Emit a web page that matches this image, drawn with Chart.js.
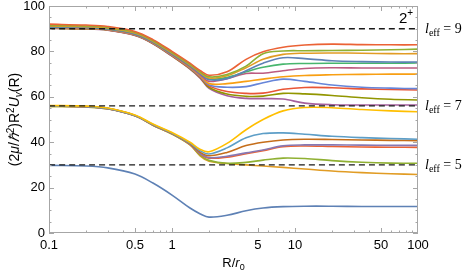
<!DOCTYPE html>
<html>
<head>
<meta charset="utf-8">
<script src="https://cdn.jsdelivr.net/npm/chart.js@4/dist/chart.umd.min.js"></script>
<style>
  html, body { margin: 0; padding: 0; background: #fff; }
  #wrap { width: 469px; height: 274px; }
</style>
</head>
<body>
<div id="wrap"><canvas id="potChart"></canvas></div>
<script>
// sample points along R/r0 (log axis)
const R = [0.1, 0.2, 0.3, 0.5, 0.7, 1, 1.4, 1.7, 2, 2.8, 4, 5.5, 8, 12, 20, 35, 60, 100];

// l_eff = 9 channels
const leff9Curves = [
  [92.0, 91.6, 91.0, 88.8, 85.2, 80.0, 74.8, 71.5, 69.5, 71.0, 76.5, 79.8, 81.8, 82.8, 83.2, 83.0, 82.9, 82.9],
  [91.5, 91.2, 90.6, 88.4, 84.8, 79.6, 74.4, 71.0, 68.8, 69.8, 73.5, 79.0, 80.2, 80.3, 80.4, 80.5, 80.7, 81.0],
  [91.2, 90.9, 90.3, 88.1, 84.5, 79.3, 74.1, 70.6, 68.3, 69.3, 72.8, 76.5, 78.7, 79.2, 79.3, 79.2, 79.0, 79.0],
  [90.8, 90.6, 90.0, 87.8, 84.2, 79.0, 73.8, 70.0, 67.5, 68.0, 71.5, 74.8, 77.2, 76.8, 75.9, 75.5, 75.3, 75.3],
  [90.8, 90.5, 89.9, 87.7, 84.1, 78.9, 73.6, 70.2, 67.8, 68.5, 71.0, 73.0, 74.4, 74.7, 74.8, 74.8, 74.8, 74.9],
  [90.6, 90.4, 89.8, 87.5, 83.9, 78.6, 73.2, 69.6, 66.8, 68.0, 70.3, 70.4, 71.5, 72.5, 72.8, 72.7, 72.7, 72.7],
  [90.5, 90.3, 89.7, 87.4, 83.8, 78.5, 73.0, 69.2, 65.8, 65.8, 66.8, 67.8, 68.8, 69.4, 69.7, 69.9, 70.0, 70.0],
  [90.4, 90.2, 89.6, 87.3, 83.7, 78.3, 72.8, 68.9, 65.2, 64.2, 64.5, 66.2, 67.8, 66.8, 65.2, 64.2, 63.8, 63.6],
  [90.3, 90.1, 89.5, 87.2, 83.6, 78.2, 72.6, 68.7, 64.8, 62.3, 61.5, 61.6, 63.3, 64.1, 64.0, 63.5, 63.2, 63.0],
  [90.2, 90.0, 89.4, 87.1, 83.5, 78.0, 72.4, 68.4, 64.2, 61.2, 60.2, 60.3, 61.5, 61.3, 60.6, 59.6, 58.9, 58.6],
  [90.1, 89.9, 89.3, 87.0, 83.4, 77.9, 72.2, 68.1, 63.7, 60.5, 59.3, 59.2, 59.0, 57.2, 56.5, 56.4, 56.4, 56.4]
];
const leff9Colors = ['#EB6235', '#8FB032', '#E19C24', '#5E81B5', '#47B66D', '#BC5B80',
                     '#F89F13', '#6685D9', '#E95536', '#929600', '#A5609D'];

// l_eff = 7 channels
const leff7Curves = [
  [56.2, 55.9, 55.1, 52.0, 48.0, 44.3, 40.0, 36.8, 35.8, 39.5, 45.5, 50.0, 53.8, 55.3, 55.2, 54.4, 53.8, 53.4],
  [56.0, 55.7, 54.9, 51.8, 47.8, 44.0, 39.6, 36.2, 34.8, 37.5, 42.0, 43.8, 44.1, 43.5, 42.6, 42.0, 41.6, 41.3],
  [56.0, 55.7, 54.9, 51.8, 47.7, 43.9, 39.4, 35.5, 34.0, 35.5, 38.5, 40.0, 41.0, 41.3, 41.2, 41.0, 40.8, 40.7],
  [55.9, 55.6, 54.8, 51.7, 47.6, 43.8, 39.2, 35.0, 33.2, 33.8, 35.3, 36.6, 38.4, 38.8, 38.8, 38.7, 38.6, 38.6],
  [55.9, 55.6, 54.8, 51.7, 47.6, 43.8, 39.1, 34.8, 33.0, 33.4, 34.9, 36.3, 38.0, 38.3, 38.1, 37.9, 37.8, 37.7],
  [55.8, 55.5, 54.7, 51.6, 47.5, 43.6, 38.9, 34.2, 32.0, 30.7, 31.1, 32.1, 33.0, 32.8, 31.9, 31.2, 30.8, 30.7],
  [55.8, 55.5, 54.7, 51.6, 47.5, 43.6, 38.8, 33.9, 31.6, 30.6, 30.0, 29.5, 28.9, 28.2, 27.3, 26.6, 26.1, 25.8]
];
const leff7Colors = ['#FFBF00', '#5D9EC7', '#C56E1A', '#8778B3', '#EB6235', '#8FB032', '#E19C24'];

// l_eff = 5 channel
const leff5Curve = [29.8, 29.5, 28.7, 26.0, 22.0, 16.7, 11.0, 8.4, 7.0, 7.8, 9.8, 11.0, 11.6, 11.8, 11.8, 11.7, 11.7, 11.7];

// centrifugal levels l(l+1) and their labels
const levels = [90, 56, 30];
const levelNames = ['9', '7', '5'];

const xTicks = [0.1, 0.5, 1, 5, 10, 50, 100];
const yTicks = [0, 20, 40, 60, 80, 100];

const SANS = '"Liberation Sans", Arial, sans-serif';
const SERIF = '"Liberation Serif", "Times New Roman", serif';

function toPts(vals) {
  return R.map((r, i) => ({ x: r, y: vals[i] }));
}

const datasets = [];
levels.forEach(v => {
  datasets.push({
    data: [{ x: 0.1, y: v }, { x: 100, y: v }],
    borderColor: '#1a1a1a', borderWidth: 1.4, borderDash: [6, 4]
  });
});
datasets.push({ data: toPts(leff5Curve), borderColor: '#5E81B5' });
leff7Curves.forEach((c, i) => datasets.push({ data: toPts(c), borderColor: leff7Colors[i] }));
leff9Curves.forEach((c, i) => datasets.push({ data: toPts(c), borderColor: leff9Colors[i] }));

// draw a line of text made of styled pieces, starting at x
function drawRuns(ctx, runs, x, y, align) {
  let w = 0;
  runs.forEach(r => { ctx.font = r.font; w += ctx.measureText(r.t).width; });
  let cx = align === 'center' ? x - w / 2 : x;
  ctx.textAlign = 'left';
  ctx.textBaseline = 'alphabetic';
  runs.forEach(r => {
    ctx.font = r.font;
    ctx.fillText(r.t, cx, y + (r.dy || 0));
    cx += ctx.measureText(r.t).width;
  });
}

const framePlugin = {
  id: 'frame',
  afterDraw(chart) {
    const { ctx, chartArea: a, scales: { x, y } } = chart;
    ctx.save();
    ctx.strokeStyle = '#a6a6a6';
    ctx.lineWidth = 1;
    ctx.strokeRect(a.left + 0.5, a.top + 0.5, a.right - a.left - 1, a.bottom - a.top - 1);

    ctx.beginPath();
    // x ticks (top and bottom, pointing inward)
    [0.1, 1, 10].forEach(d => {
      for (let k = 1; k <= 9; k++) {
        const v = d * k;
        if (v > 100) continue;
        const px = Math.round(x.getPixelForValue(v)) + 0.5;
        const len = xTicks.includes(+v.toPrecision(3)) ? 5 : 2.5;
        ctx.moveTo(px, a.bottom); ctx.lineTo(px, a.bottom - len);
        ctx.moveTo(px, a.top); ctx.lineTo(px, a.top + len);
      }
    });
    // y ticks (left and right)
    for (let v = 0; v <= 100; v += 5) {
      const py = Math.round(y.getPixelForValue(v)) + 0.5;
      const len = v % 20 === 0 ? 5 : 2.5;
      ctx.moveTo(a.left, py); ctx.lineTo(a.left + len, py);
      ctx.moveTo(a.right, py); ctx.lineTo(a.right - len, py);
    }
    ctx.stroke();

    ctx.fillStyle = '#000';
    // axis titles
    drawRuns(ctx, [
      { t: 'R/', font: '13px ' + SANS },
      { t: 'r', font: 'italic 13px ' + SANS },
      { t: '0', font: '9px ' + SANS, dy: 3 }
    ], (a.left + a.right) / 2, 267, 'center');

    ctx.save();
    ctx.translate(19, (a.top + a.bottom) / 2);
    ctx.rotate(-Math.PI / 2);
    drawRuns(ctx, [
      { t: '(2', font: '14px ' + SANS },
      { t: 'μ', font: 'italic 14px ' + SANS },
      { t: '/', font: '14px ' + SANS },
      { t: 'ℏ', font: 'italic 14px ' + SANS },
      { t: '2', font: '10px ' + SANS, dy: -5 },
      { t: ')R', font: '14px ' + SANS },
      { t: '2', font: '10px ' + SANS, dy: -5 },
      { t: 'U', font: 'italic 14px ' + SANS },
      { t: 'v', font: 'italic 10px ' + SANS, dy: 3 },
      { t: '(R)', font: '14px ' + SANS }
    ], 0, 0, 'center');
    ctx.restore();

    // state label
    drawRuns(ctx, [
      { t: '2', font: '15px ' + SANS },
      { t: '+', font: '10px ' + SANS, dy: -7 }
    ], 399, 23, 'left');

    // l_eff labels at the right of each level
    levels.forEach((v, i) => {
      const py = y.getPixelForValue(v);
      drawRuns(ctx, [
        { t: 'l', font: 'italic 14px ' + SERIF },
        { t: 'eff', font: '10px ' + SERIF, dy: 3 },
        { t: ' = ' + levelNames[i], font: '14px ' + SERIF }
      ], 425, py + 4, 'left');
    });
    ctx.restore();
  }
};

new Chart(document.getElementById('potChart').getContext('2d'), {
  type: 'line',
  data: { datasets: datasets },
  options: {
    responsive: true,
    maintainAspectRatio: false,
    animation: false,
    layout: { autoPadding: false, padding: { left: 0, top: 6, right: 51, bottom: 0 } },
    elements: {
      point: { radius: 0 },
      line: { borderWidth: 1.6, tension: 0.35, fill: false }
    },
    plugins: { legend: { display: false }, tooltip: { enabled: false } },
    scales: {
      x: {
        type: 'logarithmic',
        min: 0.1, max: 100,
        grid: { display: false, drawTicks: false },
        border: { display: false },
        afterBuildTicks: s => { s.ticks = xTicks.map(v => ({ value: v })); },
        afterFit: s => { s.height = 41; s.paddingLeft = 0; s.paddingRight = 0; },
        ticks: {
          autoSkip: false, maxRotation: 0, padding: 5,
          color: '#000', font: { family: SANS, size: 13 },
          callback: v => String(v)
        }
      },
      y: {
        min: 0, max: 100,
        grid: { display: false, drawTicks: false },
        border: { display: false },
        afterBuildTicks: s => { s.ticks = yTicks.map(v => ({ value: v })); },
        afterFit: s => { s.width = 49; s.paddingTop = 0; s.paddingBottom = 0; },
        ticks: {
          padding: 4,
          color: '#000', font: { family: SANS, size: 13 }
        }
      }
    }
  },
  plugins: [framePlugin]
});
</script>
</body>
</html>
